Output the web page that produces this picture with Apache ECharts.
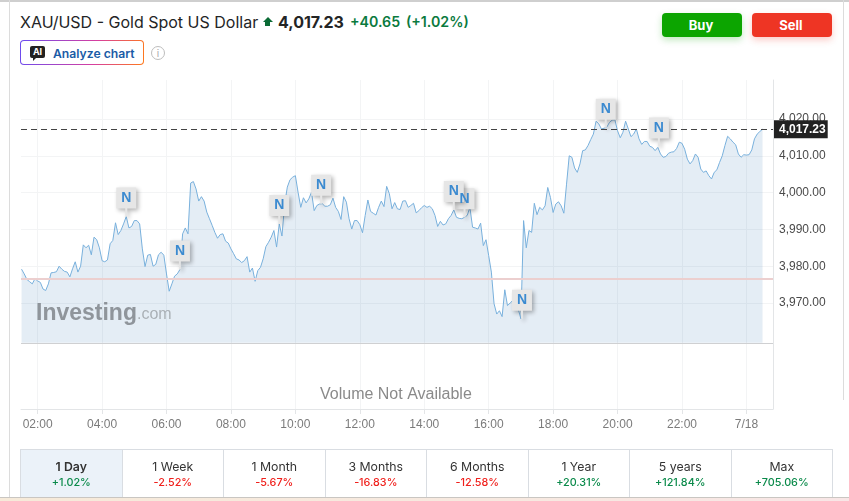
<!DOCTYPE html>
<html>
<head>
<meta charset="utf-8">
<title>XAU/USD</title>
<script src="https://cdn.jsdelivr.net/npm/echarts@6/dist/echarts.min.js"></script>
<style>
  html, body { margin: 0; padding: 0; background: #fff; }
  body { position: relative; width: 849px; height: 501px; overflow: hidden; font-family: Inter, "Noto Sans", sans-serif; color: #232526; }
  #chart { position: absolute; left: 0; top: 0; width: 849px; height: 501px; }
  .abs { position: absolute; white-space: nowrap; }
  #topRule { left: 0; top: 0; width: 849px; height: 2px; background: #cfcfcf; }
  #leftRule { left: 9px; top: 0; width: 1px; height: 497px; background: #dcdcdc; }
  #rightRule { left: 843px; top: 0; width: 1px; height: 400px; background: #dcdcdc; }
  #bottomBand { left: 0; top: 497px; width: 849px; height: 4px; border-top: 1px solid #c9c6c2; box-sizing: border-box; background: linear-gradient(90deg, #f6ead9, #f7e9e0 60%, #f8e6e6); }
  #name { left: 20px; top: 12px; font-size: 16px; line-height: 20px; }
  #arrow { left: 263px; top: 17px; width: 0; height: 0; border-left: 5px solid transparent; border-right: 5px solid transparent; border-bottom: 5px solid #0a6b35; }
  #arrowStem { left: 265px; top: 22px; width: 5px; height: 4px; background: #0a6b35; }
  #last { left: 278px; top: 12px; font-size: 16px; line-height: 20px; font-weight: 700; }
  #chg { left: 350px; top: 12px; font-size: 14.2px; line-height: 20px; font-weight: 600; color: #0a7a3e; }
  #pct { left: 406px; top: 12px; font-size: 14.2px; line-height: 20px; font-weight: 600; color: #0a7a3e; }
  #analyze { left: 20px; top: 40px; width: 124px; height: 25px; box-sizing: border-box; border-radius: 4px; border: 1px solid transparent;
    background: linear-gradient(#fff, #fff) padding-box, linear-gradient(100deg, #6a4cf0, #d63fa0 60%, #ff7a1a) border-box; }
  #aiIcon { left: 30px; top: 46px; width: 15px; height: 12px; border-radius: 2px; background: #222; color: #fff; font-size: 9px; font-weight: 700; line-height: 12px; text-align: center; }
  #aiTail { left: 33px; top: 58px; width: 0; height: 0; border-top: 3px solid #222; border-right: 3px solid transparent; }
  #analyzeText { left: 53px; top: 45px; font-size: 12.2px; line-height: 17px; font-weight: 600; color: #1a5ba6; }
  #info { left: 151px; top: 46px; width: 14px; height: 14px; box-sizing: border-box; border: 1px solid #bdbdbd; border-radius: 50%; color: #aaa; font-size: 10px; line-height: 12px; text-align: center; }
  .btn { top: 13px; width: 78px; padding-right: 2px; height: 24px; border-radius: 4px; color: #fff; font-size: 13px; font-weight: 700; line-height: 24px; text-align: center; }
  #buy { left: 662px; background: #0ca500; box-shadow: 0 3px 7px rgba(12,165,0,.25); }
  #sell { left: 752px; background: #ee3524; box-shadow: 0 3px 7px rgba(238,53,36,.25); }
  #tabs { left: 20px; top: 449px; width: 813px; height: 48px; display: flex; box-sizing: border-box; border: 1px solid #d9dde2; border-bottom: 0; }
  .tab { flex: 1 1 0; border-left: 1px solid #d9dde2; text-align: center; }
  .tab:first-child { border-left: 0; background: #ebf2f9; }
  .tab:first-child .period { font-weight: 600; }
  .period { font-size: 12.3px; line-height: 16px; margin-top: 9px; color: #333; }
  .change { font-size: 10.8px; line-height: 14px; margin-top: 1px; font-weight: 500; }
  .up { color: #0a8a4a; }
  .down { color: #f0201c; }
</style>
</head>
<body>
<div class="abs" id="topRule"></div>
<div class="abs" id="leftRule"></div>
<div class="abs" id="rightRule"></div>
<div class="abs" id="name">XAU/USD - Gold Spot US Dollar</div>
<div class="abs" id="arrow"></div><div class="abs" id="arrowStem"></div>
<div class="abs" id="last">4,017.23</div>
<div class="abs" id="chg">+40.65</div>
<div class="abs" id="pct">(+1.02%)</div>
<div class="abs" id="analyze"></div>
<div class="abs" id="aiIcon">AI</div><div class="abs" id="aiTail"></div>
<div class="abs" id="analyzeText">Analyze chart</div>
<div class="abs" id="info">i</div>
<div class="abs btn" id="buy">Buy</div>
<div class="abs btn" id="sell">Sell</div>
<div id="chart"></div>
<div class="abs" id="tabs"></div>
<div class="abs" id="bottomBand"></div>
<script>
// Intraday gold spot quotes, one close every five minutes from 01:30
const startMinute = 90;
const stepMinutes = 5;
const closes = [
  3979.2,3977.9,3976.4,3975.8,3975.2,3976.6,3976.0,3975.6,3973.8,3973.4,
  3975.2,3978.2,3978.3,3978.5,3980.0,3979.2,3978.6,3978.4,3977.1,3979.3,
  3981.2,3978.4,3980.0,3985.8,3985.0,3985.7,3983.1,3987.9,3987.2,3985.0,
  3981.5,3981.2,3981.7,3986.1,3987.0,3991.8,3988.6,3989.7,3991.5,3993.5,
  3990.4,3990.8,3992.4,3992.4,3991.5,3984.7,3979.9,3983.0,3983.2,3980.0,
  3980.5,3983.1,3983.8,3983.0,3977.9,3973.2,3975.2,3977.3,3977.9,3979.1,
  3988.8,3990.4,3988.8,4002.6,4003.0,4001.0,3997.7,3998.9,3997.7,3994.7,
  3992.9,3991.1,3989.2,3987.6,3988.6,3988.8,3986.8,3986.3,3984.7,3983.4,
  3982.0,3981.7,3981.0,3981.5,3982.6,3978.4,3979.5,3975.9,3978.8,3979.7,
  3982.0,3985.3,3986.5,3987.9,3989.7,3985.2,3991.5,3988.2,3996.9,4001.5,
  4003.5,4004.2,4004.6,4000.1,3996.0,3998.6,3997.2,3998.3,4000.1,3995.1,
  3996.5,3996.9,3997.0,3996.3,3996.3,3996.7,3998.5,3996.0,3994.9,3992.7,
  3998.9,3997.4,3992.9,3990.1,3992.4,3992.4,3991.3,3989.1,3993.8,3998.0,
  3994.9,3994.4,3993.9,3996.0,3997.7,3996.2,4001.7,3999.7,3995.6,3997.3,
  3995.6,3995.4,3997.7,3997.8,3996.0,3996.5,3997.1,3994.5,3995.1,3995.9,
  3996.5,3996.0,3996.3,3995.6,3993.8,3990.8,3992.2,3991.2,3991.5,3992.9,
  3993.8,3995.3,3993.3,3993.0,3992.9,3993.3,3993.8,3996.0,3990.6,3990.4,
  3990.1,3991.7,3985.6,3987.2,3982.9,3978.4,3969.8,3967.0,3967.9,3966.3,
  3973.6,3969.3,3970.0,3970.7,3969.8,3968.4,3965.7,3992.4,3985.0,3989.7,
  3989.2,3997.1,3994.0,3996.0,3995.3,3996.4,4001.4,3998.7,3994.6,3996.9,
  3997.5,3996.4,3994.4,4002.3,4010.0,4009.6,4006.7,4005.5,4007.8,4011.4,
  4011.6,4012.8,4014.4,4015.9,4019.4,4018.7,4017.3,4017.5,4017.8,4019.1,
  4019.7,4019.8,4016.8,4014.9,4016.4,4019.4,4017.3,4015.2,4015.9,4017.3,
  4014.6,4013.1,4013.9,4013.9,4012.6,4012.3,4011.4,4012.3,4010.5,4009.6,
  4009.8,4010.7,4011.0,4011.1,4012.0,4013.7,4013.4,4011.8,4009.1,4007.8,
  4008.7,4010.5,4009.6,4006.4,4005.5,4005.9,4004.6,4003.7,4005.5,4006.2,
  4008.2,4010.0,4012.8,4015.3,4014.6,4013.7,4013.0,4010.5,4009.6,4010.3,
  4010.2,4010.3,4011.6,4014.6,4015.9,4016.6,4017.23
];
const lastPrice = 4017.23;
const previousClose = 3976.58;
const priceTicks = [3970, 3980, 3990, 4000, 4010, 4020];
const timeTicks = [120, 240, 360, 480, 600, 720, 840, 960, 1080, 1200, 1320, 1440];
const timeTickLabels = ['02:00','04:00','06:00','08:00','10:00','12:00','14:00','16:00','18:00','20:00','22:00','7/18'];
// News flags: the time and quote each one points at
const newsMinutes = [285, 385, 570, 648, 915, 895, 1022, 1178, 1277];
const newsPrices = [3993.5, 3979.1, 3991.5, 3997.0, 3993.3, 3995.3, 3965.7, 4017.6, 4012.5];
const periods = ['1 Day','1 Week','1 Month','3 Months','6 Months','1 Year','5 years','Max'];
const periodChanges = ['+1.02%','-2.52%','-5.67%','-16.83%','-12.58%','+20.31%','+121.84%','+705.06%'];

document.getElementById('tabs').innerHTML = periods.map(function (p, i) {
  const cls = periodChanges[i][0] === '+' ? 'up' : 'down';
  return '<div class="tab"><div class="period">' + p + '</div><div class="change ' + cls + '">' + periodChanges[i] + '</div></div>';
}).join('');

const priceSeries = closes.map(function (v, i) { return [startMinute + i * stepMinutes, v]; });
const newsSeries = newsMinutes.map(function (m, i) { return [m, newsPrices[i]]; });
const gridColor = '#f3f4f5';
const sansFont = '"Liberation Sans", Arial, sans-serif';

const chart = echarts.init(document.getElementById('chart'), null, { renderer: 'canvas' });
chart.setOption({
  animation: false,
  backgroundColor: 'transparent',
  textStyle: { fontFamily: sansFont },
  grid: { left: 21, right: 76, top: 80, bottom: 92, containLabel: false },
  xAxis: {
    type: 'value', min: 89.0, max: 1489.5,
    axisLine: { show: true, onZero: false, lineStyle: { color: '#e3e5e7' } },
    axisTick: { show: true, length: 5, customValues: timeTicks, lineStyle: { color: '#e3e5e7' } },
    axisLabel: {
      show: true, customValues: timeTicks, margin: 10, fontSize: 12, color: '#7b7b7b',
      formatter: function (v) { return timeTickLabels[timeTicks.indexOf(v)]; }
    },
    splitLine: { show: true, lineStyle: { color: gridColor } }
  },
  yAxis: {
    type: 'value', position: 'right', min: 3941.2, max: 4030.6, scale: true,
    axisLine: { show: true, onZero: false, lineStyle: { color: '#e3e5e7' } },
    axisTick: { show: false, customValues: priceTicks },
    axisLabel: {
      show: true, customValues: priceTicks, margin: 6, fontSize: 12, color: '#4a4a4a', padding: [4, 0, 0, 0],
      formatter: function (v) { return v.toLocaleString('en-US', { minimumFractionDigits: 2, maximumFractionDigits: 2 }); }
    },
    splitLine: { show: true, lineStyle: { color: gridColor } }
  },
  series: [
    {
      type: 'line', data: priceSeries, showSymbol: false, symbol: 'none', smooth: false, z: 3,
      lineStyle: { color: '#78b0dc', width: 1 },
      areaStyle: { color: 'rgba(0,84,160,0.107)', opacity: 1, origin: 3959.2 },
      markLine: {
        silent: true, symbol: 'none', animation: false,
        data: [
          { yAxis: previousClose, lineStyle: { color: '#eccfcf', width: 2, type: 'solid' }, label: { show: false } },
          { yAxis: 3959.2, lineStyle: { color: '#cfd0d2', width: 1, type: 'solid' }, label: { show: false } },
          {
            yAxis: lastPrice, lineStyle: { color: '#444', width: 1, type: [6, 4] },
            label: {
              show: true, position: 'end', distance: 1, color: '#fff', backgroundColor: '#222',
              fontSize: 12, fontWeight: 600, padding: [4, 2, 2, 5],
              formatter: function () { return '4,017.23'; }
            }
          }
        ]
      }
    },
    {
      type: 'scatter', data: newsSeries, z: 5,
      symbol: 'path://M0 0H20V21H11V29H9V21H0Z', symbolSize: [20, 29], symbolOffset: [0, -14.5],
      itemStyle: { color: '#e6e6e6', opacity: 1, shadowColor: 'rgba(0,0,0,0.3)', shadowBlur: 4, shadowOffsetX: 2, shadowOffsetY: 2 },
      label: {
        show: true, position: 'inside', offset: [0, -4], formatter: 'N',
        color: '#3b8ad0', fontSize: 14, fontWeight: 'bold'
      }
    }
  ],
  graphic: [
    { type: 'text', z: 6, left: 320, top: 387, style: { text: 'Volume Not Available', fill: '#8a8a8a', fontSize: 16, fontFamily: sansFont } },
    { type: 'text', z: 6, left: 36, top: 302, style: { text: 'Investing', fill: 'rgba(110,115,120,0.72)', fontSize: 23, fontWeight: 'bold', fontFamily: sansFont } },
    { type: 'text', z: 6, left: 137, top: 307, style: { text: '.com', fill: 'rgba(120,125,130,0.55)', fontSize: 16, fontFamily: sansFont } }
  ]
});
</script>
</body>
</html>
